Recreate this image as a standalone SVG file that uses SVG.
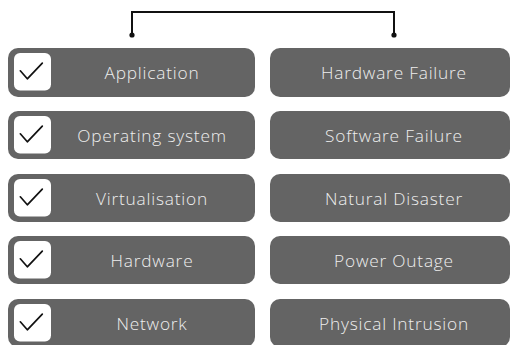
<svg xmlns="http://www.w3.org/2000/svg" width="511" height="345" viewBox="0 0 511 345">
<defs>
<style>
.box{fill:#646464;}
.chk{fill:#ffffff;}
.tick{fill:none;stroke:#111;stroke-width:1.7;stroke-linecap:round;stroke-linejoin:round;}
.lbl{fill:#eeeeee;font-family:"Open Sans","Liberation Sans",sans-serif;font-size:17.3px;font-weight:300;letter-spacing:0.8px;text-anchor:middle;dominant-baseline:central;}
.conn{fill:none;stroke:#111;stroke-width:2;}
.dot{fill:#111;}
</style>
<g id="tickmark"><path class="tick" d="M-12.2,-1.2 L-5.2,6.8 L9.8,-8.8"/></g>
</defs>
<rect width="511" height="345" fill="#ffffff"/>
<g id="connectors">
<path class="conn" d="M132,35 V12 H394 V35"/>
<circle class="dot" cx="132" cy="35" r="2.6"/>
<circle class="dot" cx="394" cy="35" r="2.6"/>
</g>
<g id="n-application">
<rect class="box" x="8" y="48" width="247" height="49" rx="10"/>
<rect class="chk" x="14" y="53" width="37" height="37.5" rx="6"/>
<use href="#tickmark" x="32.5" y="72"/>
<text class="lbl" x="152" y="72.5">Application</text>
</g>
<g id="n-os">
<rect class="box" x="8" y="111" width="247" height="48" rx="10"/>
<rect class="chk" x="14" y="116" width="37" height="37.5" rx="6"/>
<use href="#tickmark" x="32.5" y="135"/>
<text class="lbl" x="152" y="135">Operating system</text>
</g>
<g id="n-virtualisation">
<rect class="box" x="8" y="174" width="247" height="48" rx="10"/>
<rect class="chk" x="14" y="179" width="37" height="37.5" rx="6"/>
<use href="#tickmark" x="32.5" y="198"/>
<text class="lbl" x="152" y="198">Virtualisation</text>
</g>
<g id="n-hardware">
<rect class="box" x="8" y="236" width="247" height="48" rx="10"/>
<rect class="chk" x="14" y="241" width="37" height="37.5" rx="6"/>
<use href="#tickmark" x="32.5" y="260"/>
<text class="lbl" x="152" y="260.5">Hardware</text>
</g>
<g id="n-network">
<rect class="box" x="8" y="299" width="247" height="48" rx="10"/>
<rect class="chk" x="14" y="304" width="37" height="37.5" rx="6"/>
<use href="#tickmark" x="32.5" y="323"/>
<text class="lbl" x="152" y="323">Network</text>
</g>
<g id="n-hwfail">
<rect class="box" x="270" y="48" width="240" height="49" rx="10"/>
<text class="lbl" x="394" y="72.5">Hardware Failure</text>
</g>
<g id="n-swfail">
<rect class="box" x="270" y="111" width="240" height="48" rx="10"/>
<text class="lbl" x="394" y="135">Software Failure</text>
</g>
<g id="n-disaster">
<rect class="box" x="270" y="174" width="240" height="48" rx="10"/>
<text class="lbl" x="394" y="198">Natural Disaster</text>
</g>
<g id="n-power">
<rect class="box" x="270" y="236" width="240" height="48" rx="10"/>
<text class="lbl" x="394" y="260.5">Power Outage</text>
</g>
<g id="n-intrusion">
<rect class="box" x="270" y="299" width="240" height="48" rx="10"/>
<text class="lbl" x="394" y="323">Physical Intrusion</text>
</g>
</svg>
